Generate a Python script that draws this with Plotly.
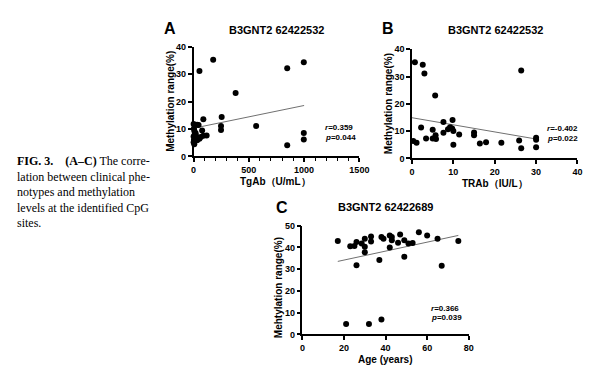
import plotly.graph_objects as go

W, H = 600, 382          # browser window / reference size
PAD = 8                  # default page body margin of the written html page
FW, FH = W - PAD, H - PAD

# ---------------- Data ----------------
# Panel A: TgAb (U/mL) vs methylation range (%)
A_tgab = [53, 177, 380, 847, 997, 254, 88, 566, 248, 248, 997, 997, 847, 77,
          0, 32, 3, 18, 0, 0, 6, 41, 65, 88, 118, 32, 53, 6, 20, 45, 3, 10]
A_meth = [31.2, 35.3, 23.2, 32.2, 34.4, 14.4, 13.6, 11.1, 11.1, 9.6, 8.5, 6.2, 4.1, 9.5,
          11.8, 11.6, 10.2, 8.5, 7.3, 5.2, 4.4, 6.7, 7.1, 7.5, 7.6, 5.9, 6.4, 9.4, 7.8, 11.5, 6.0, 8.0]
A_fit = [10.3, 0.0083]          # intercept, slope
A_fit_x = [0, 1000]
A_stats = ["0.359", "0.044"]

# Panel B: TRAb (IU/L) vs methylation range (%)
B_trab = [0.7, 2.6, 3.0, 5.6, 26.4, 0.3, 1.1, 2.2, 3.4, 5.0, 5.0, 5.7, 5.8, 7.6, 7.6,
          8.7, 9.2, 9.8, 9.7, 10.0, 10.0, 11.4, 15.0, 15.0, 16.4, 17.9, 21.6, 25.9, 26.4,
          30.0, 30.0, 30.0]
B_meth = [35.2, 34.3, 31.1, 23.0, 32.2, 6.4, 5.7, 11.3, 7.3, 10.5, 7.3, 8.5, 7.1, 13.3, 9.4,
          10.7, 11.4, 14.1, 11.0, 10.0, 5.0, 8.8, 9.5, 8.5, 5.5, 5.9, 5.7, 6.6, 3.7,
          7.6, 6.8, 4.1]
B_fit = [14.9, -0.26]
B_fit_x = [0, 30]
B_stats = ["-0.402", "0.022"]

# Panel C: Age (years) vs methylation range (%)
C_age = [17, 21, 23, 25, 26, 26, 28.5, 30, 30, 30, 32, 33, 33, 37, 38, 38, 39,
         42, 42, 43, 43, 46, 47, 49, 49, 51, 53, 56, 60, 65, 67, 75]
C_meth = [43.0, 4.8, 40.6, 40.7, 42.5, 31.8, 41.8, 44.0, 40.3, 37.8, 4.8, 45.1, 42.8, 34.2, 44.8, 6.9, 44.0,
          45.5, 40.0, 44.8, 43.3, 42.2, 46.0, 43.3, 35.8, 41.8, 42.1, 47.0, 45.5, 44.0, 31.6, 43.0]
C_fit = [30.1, 0.206]
C_fit_x = [17, 75]
C_stats = ["0.366", "0.039"]

TITLE_A = "B3GNT2 62422532"
TITLE_B = "B3GNT2 62422532"
TITLE_C = "B3GNT2 62422689"
YLAB_AB = "Methylation range(%)"
YLAB_C = "Mehtylation range(%)"
XLAB_A = "TgAb（U/mL）"
XLAB_B = "TRAb（IU/L）"
XLAB_C = "Age (years)"

CAPTION = [
    "<b>FIG. 3.</b>&nbsp;&nbsp;&nbsp; <b>(A–C)</b> The corre-",
    "lation between clinical phe-",
    "notypes and methylation",
    "levels at the identified CpG",
    "sites.",
]

# ---------------- Figure ----------------
F = "Liberation Sans"
SERIF = "Liberation Serif"


def px(x):
    return (x - PAD) / FW


def py(y):
    return 1 - (y - PAD) / FH


fig = go.Figure()

panels = [
    ("x", "y", A_tgab, A_meth, A_fit, A_fit_x),
    ("x2", "y2", B_trab, B_meth, B_fit, B_fit_x),
    ("x3", "y3", C_age, C_meth, C_fit, C_fit_x),
]
for xa, ya, xs, ys, fit, fx in panels:
    fig.add_trace(go.Scatter(
        x=fx, y=[fit[0] + fit[1] * v for v in fx], mode="lines",
        line=dict(color="#707070", width=1), xaxis=xa, yaxis=ya,
        showlegend=False, hoverinfo="skip"))
    fig.add_trace(go.Scatter(
        x=xs, y=ys, mode="markers", marker=dict(color="black", size=6),
        xaxis=xa, yaxis=ya, showlegend=False, cliponaxis=False))


def axis(domain, rng, dtick, anchor, minor=None):
    d = dict(domain=domain, range=rng, dtick=dtick, tick0=0, anchor=anchor,
             showline=True, linecolor="black", linewidth=1.5,
             ticks="outside", ticklen=4, tickwidth=1.5, tickcolor="black",
             showgrid=False, zeroline=False, fixedrange=True,
             tickfont=dict(family=F, size=9, color="black", weight="bold"))
    if minor:
        d["minor"] = minor
    return d


fig.update_layout(
    width=FW, height=FH, margin=dict(l=0, r=0, t=0, b=0),
    paper_bgcolor="white", plot_bgcolor="white",
    xaxis=axis([px(194.7), px(364.2)], [0, 1500], 500, "y",
               minor=dict(dtick=100, ticks="outside", ticklen=2.5, tickwidth=1, tickcolor="black")),
    yaxis=axis([py(155.3), py(42.9)], [0, 40], 10, "x"),
    xaxis2=axis([px(418), px(587.2)], [0, 40], 10, "y2"),
    yaxis2=axis([py(157.4), py(45.2)], [0, 40], 10, "x2"),
    xaxis3=axis([px(306), px(476)], [0, 80], 20, "y3"),
    yaxis3=axis([py(338.3), py(226.6)], [0, 50], 10, "x3"),
)

ann = []


def text(x, y, s, size, bold=True, angle=0, xanchor="center", family=F):
    ann.append(dict(x=px(x), y=py(y), xref="paper", yref="paper", text=s,
                    showarrow=False, xanchor=xanchor, yanchor="middle", textangle=angle,
                    borderpad=0, align="left",
                    font=dict(family=family, size=size, color="black",
                              weight="bold" if bold else "normal")))


# panel letters and titles
text(171, 24, "A", 16)
text(279.5, 25, TITLE_A, 11)
text(393.5, 24, "B", 16)
text(503.3, 25, TITLE_B, 11)
text(285, 208, "C", 16)
text(390.5, 207, TITLE_C, 11)

# axis titles
text(171.7, 99.2, YLAB_AB, 10, angle=-90)
text(393.3, 100.8, YLAB_AB, 10, angle=-90)
text(281.7, 290, YLAB_C, 10, angle=-90)
text(278, 181, XLAB_A, 10)
text(502.5, 183, XLAB_B, 10)
text(390.8, 364, XLAB_C, 10)

# statistics
for (x0, yr, yp, st) in [(328, 126, 136, A_stats), (555, 127, 136.5, B_stats),
                         (436, 312, 321, C_stats)]:
    text(x0, yr, "<i>r</i>=" + st[0], 8, xanchor="left")
    text(x0, yp, "<i>p</i>=" + st[1], 8, xanchor="left")

# caption (one block of left-aligned lines)
text(13, 192, "<br>".join(CAPTION), 12, bold=False, xanchor="left", family=SERIF)

fig.update_layout(annotations=ann)
fig.write_html("out.html")
